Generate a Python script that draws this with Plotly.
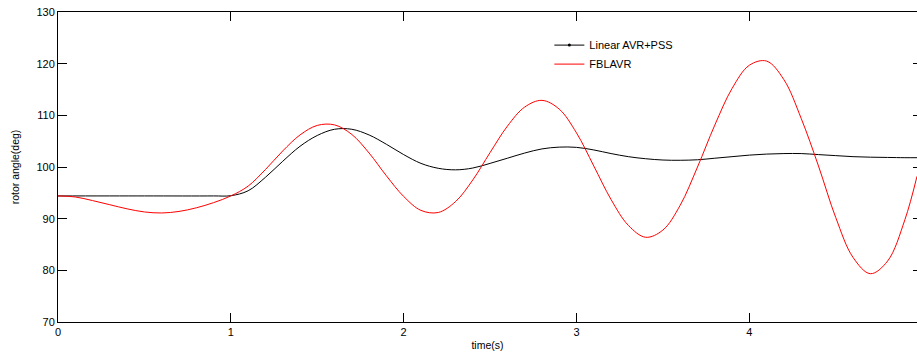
import plotly.graph_objects as go

# Time (s) and rotor angle (deg)
t_pss = [0.0, 0.5, 0.9, 1.0, 1.1, 1.2, 1.3, 1.4, 1.5, 1.6, 1.7, 1.8, 1.9, 2.0, 2.1, 2.2, 2.3,
         2.4, 2.5, 2.6, 2.7, 2.8, 2.9, 3.0, 3.1, 3.2, 3.3, 3.4, 3.5, 3.6, 3.7, 3.8, 3.9,
         4.0, 4.1, 4.2, 4.3, 4.4, 4.5, 4.6, 4.7, 4.8, 4.9, 4.97]
y_pss = [94.4, 94.4, 94.4, 94.45, 95.4, 98.0, 101.1, 104.0, 106.1, 107.3, 107.3, 106.2, 104.4,
         102.4, 100.7, 99.75, 99.45, 99.8, 100.7, 101.7, 102.7, 103.5, 103.85, 103.8, 103.3,
         102.6, 102.0, 101.6, 101.35, 101.3, 101.4, 101.7, 102.0, 102.3, 102.5, 102.6, 102.6,
         102.4, 102.2, 102.0, 101.9, 101.85, 101.8, 101.8]

t_fbl = [0.0, 0.1, 0.2, 0.3, 0.4, 0.5, 0.6, 0.7, 0.8, 0.9, 1.0, 1.1, 1.2, 1.3, 1.4, 1.5,
         1.6, 1.7, 1.8, 1.9, 2.0, 2.1, 2.2, 2.3, 2.4, 2.5, 2.6, 2.7, 2.8, 2.9, 3.0, 3.1, 3.2,
         3.3, 3.4, 3.5, 3.6, 3.7, 3.8, 3.9, 4.0, 4.1, 4.2, 4.3, 4.4, 4.5, 4.6, 4.7, 4.8,
         4.9, 4.97]
y_fbl = [94.4, 94.2, 93.5, 92.7, 91.9, 91.3, 91.1, 91.4, 92.1, 93.1, 94.4, 96.3, 99.5, 103.1,
         106.2, 108.05, 108.15, 106.3, 102.7, 98.3, 94.3, 91.6, 91.2, 93.3, 97.5, 102.8,
         107.9, 111.6, 112.9, 111.2, 106.6, 100.2, 93.7, 88.7, 86.4, 87.8, 92.6, 100.0, 108.1,
         115.2, 119.7, 120.5, 116.9, 109.4, 100.2, 90.2, 82.5, 79.35, 81.8, 89.8, 98.2]

x_ticks = [0, 1, 2, 3, 4]
y_ticks = [70, 80, 90, 100, 110, 120, 130]

font_family = "Liberation Sans, Arial, sans-serif"

fig = go.Figure()
fig.add_trace(go.Scatter(x=t_pss, y=y_pss, mode="lines",
                         line=dict(color="black", width=1, shape="spline", smoothing=1),
                         showlegend=False))
fig.add_trace(go.Scatter(x=[None], y=[None], mode="lines+markers", name="Linear AVR+PSS",
                         line=dict(color="black", width=1), marker=dict(color="black", size=3)))
fig.add_trace(go.Scatter(x=t_fbl, y=y_fbl, mode="lines", name="FBLAVR",
                         line=dict(color="red", width=1, shape="spline", smoothing=1)))
# right-hand tick stubs
fig.add_trace(go.Scatter(x=[None], y=[None], yaxis="y2", showlegend=False))

fig.update_layout(
    width=917, height=356,
    margin=dict(l=58, r=0, t=12, b=34),
    paper_bgcolor="white", plot_bgcolor="white",
    font=dict(family=font_family, size=11, color="black"),
    xaxis=dict(range=[0, 4.97], tickvals=x_ticks, ticks="inside", ticklen=9, tickcolor="black",
               showline=True, linecolor="black", linewidth=1, mirror="ticks", showgrid=False,
               zeroline=False, title=dict(text="time(s)", font=dict(size=10.5), standoff=4)),
    yaxis=dict(range=[70, 130], tickvals=y_ticks, ticks="inside", ticklen=9, tickcolor="black",
               showline=True, linecolor="black", linewidth=1, mirror=False, showgrid=False,
               zeroline=False, title=dict(text="rotor angle(deg)", font=dict(size=10.5), standoff=14)),
    yaxis2=dict(range=[70, 130], tickvals=y_ticks, ticks="inside", ticklen=4, tickcolor="black",
                overlaying="y", side="right", showline=False, showticklabels=False,
                showgrid=False, zeroline=False),
    legend=dict(x=0.572, y=0.94, xanchor="left", yanchor="top", bgcolor="rgba(0,0,0,0)",
                font=dict(size=11), tracegroupgap=0),
)

fig.write_html("out.html")
